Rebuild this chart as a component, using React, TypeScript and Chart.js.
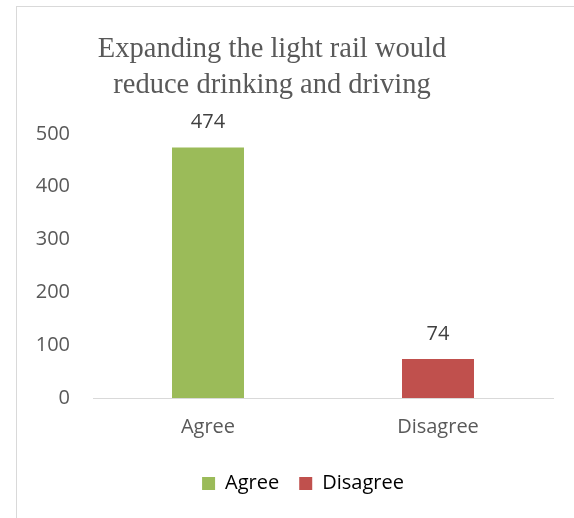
import React, { useEffect, useRef } from 'react';
import { Chart, registerables } from 'chart.js';

Chart.register(...registerables);

const categories = ['Agree', 'Disagree'];
const values = [474, 74];
const barColors = ['#9BBB59', '#C0504D'];
const titleLines = ['Expanding the light rail would', 'reduce drinking and driving'];
const yMin = 0;
const yMax = 500;
const yStep = 100;

const SANS = '"Open Sans", "Noto Sans", sans-serif';

const valueLabelPlugin = {
  id: 'valueLabels',
  afterDatasetsDraw(chart: any) {
    const ctx = chart.ctx;
    const meta = chart.getDatasetMeta(0);
    ctx.save();
    ctx.font = `20px ${SANS}`;
    ctx.fillStyle = '#404040';
    ctx.textAlign = 'center';
    ctx.textBaseline = 'middle';
    meta.data.forEach((bar: any, i: number) => {
      const v = chart.data.datasets[0].data[i];
      ctx.fillText(String(v), bar.x, bar.y - 25);
    });
    ctx.restore();
  },
};

const legendShiftPlugin = {
  id: 'legendShift',
  afterLayout(chart: any) {
    const lg = chart.legend;
    if (lg) {
      lg.left += 31;
      lg.right += 31;
    }
  },
};

export default function App() {
  const ref = useRef<HTMLCanvasElement | null>(null);

  useEffect(() => {
    if (!ref.current) return;
    const chart = new Chart(ref.current, {
      type: 'bar',
      data: {
        labels: categories,
        datasets: [
          {
            label: 'Responses',
            data: values,
            backgroundColor: barColors,
            borderWidth: 0,
            barPercentage: 0.626,
            categoryPercentage: 0.5,
          },
        ],
      },
      options: {
        responsive: false,
        animation: false,
        devicePixelRatio: 1,
        layout: { padding: { left: 21, right: 21, top: 0, bottom: 14.5 } },
        plugins: {
          title: {
            display: true,
            text: titleLines,
            color: '#595959',
            font: { family: '"Liberation Serif", "Times New Roman", serif', size: 28.5, weight: 'normal', lineHeight: 1.26 },
            padding: { top: 31.5, bottom: 30.5 },
          },
          legend: {
            display: true,
            position: 'bottom',
            labels: {
              boxWidth: 13,
              boxHeight: 13,
              padding: 20,
              color: '#595959',
              font: { family: SANS, size: 20 },
              generateLabels: () =>
                categories.map((c, i) => ({
                  text: c,
                  fillStyle: barColors[i],
                  strokeStyle: barColors[i],
                  lineWidth: 0,
                  hidden: false,
                  index: i,
                  datasetIndex: 0,
                })),
            },
          },
          tooltip: { enabled: false },
        },
        scales: {
          x: {
            grid: { display: false, drawTicks: false, tickLength: 0 },
            border: { display: true, color: '#d9d9d9', width: 1 },
            ticks: { color: '#595959', font: { family: SANS, size: 20 }, padding: 17 },
            afterFit: (scale: any) => {
              scale.height = 55.5;
            },
          },
          y: {
            min: yMin,
            max: yMax,
            grid: { display: false, drawTicks: false, tickLength: 0 },
            border: { display: false },
            ticks: { stepSize: yStep, color: '#595959', font: { family: SANS, size: 20 }, padding: 23 },
            afterFit: (scale: any) => {
              scale.width = 102;
            },
          },
        },
      },
      plugins: [valueLabelPlugin, legendShiftPlugin],
    } as any);
    return () => chart.destroy();
  }, []);

  return (
    <div
      style={{
        position: 'fixed',
        left: 0,
        top: 0,
        width: 574,
        height: 518,
        overflow: 'hidden',
        background: '#ffffff',
      }}
    >
      <div
        style={{
          position: 'absolute',
          left: 16,
          top: 6,
          width: 600,
          height: 600,
          borderLeft: '1px solid #d9d9d9',
          borderTop: '1px solid #d9d9d9',
        }}
      />
      <canvas
        ref={ref}
        width={604}
        height={518}
        style={{ position: 'absolute', left: -30, top: 0, width: 604, height: 518 }}
      />
    </div>
  );
}
